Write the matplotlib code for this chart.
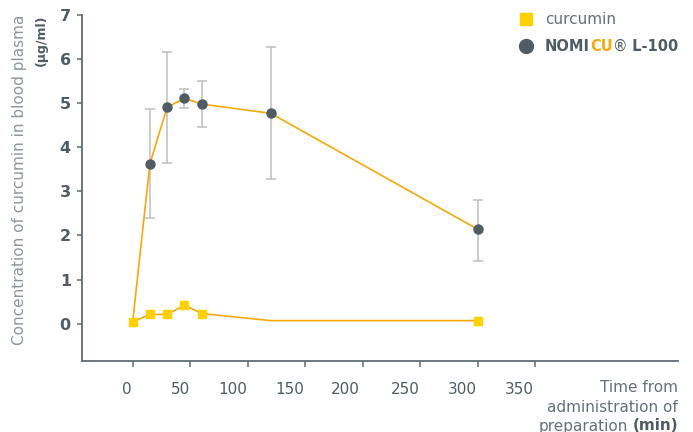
import numpy as np
import matplotlib.pyplot as plt
import matplotlib.transforms as mtransforms
from matplotlib.lines import Line2D
from matplotlib.text import Annotation

# data
time_curcumin = [0, 15, 30, 45, 60, 120, 300]
conc_curcumin = [0.04, 0.21, 0.21, 0.42, 0.23, 0.07, 0.07]
marked_curcumin = [0, 1, 2, 3, 4, 6]  # no marker drawn at 120 min

time_nomicu = [0, 15, 30, 45, 60, 120, 300]
conc_nomicu = [0.04, 3.63, 4.91, 5.11, 4.98, 4.77, 2.14]
err_low = [np.nan, 2.40, 3.64, 4.89, 4.45, 3.27, 1.43]
err_high = [np.nan, 4.86, 6.16, 5.33, 5.50, 6.27, 2.81]

xticks = [0, 50, 100, 150, 200, 250, 300, 350]
yticks = [0, 1, 2, 3, 4, 5, 6, 7]

# colours
ORANGE = '#f5a90a'
YELLOW = '#ffd100'
DARK = '#4f5c64'
MID = '#64707a'
LIGHT = '#8b979e'
ERR = '#bfbfbf'

plt.rcParams['font.family'] = 'DejaVu Sans'

fig = plt.figure(figsize=(6.93, 4.32), dpi=100)
ax = fig.add_axes([81.7 / 693, 71 / 432, (678 - 81.7) / 693, (361 - 15) / 432])

# NOMICU error bars
t_n = np.array(time_nomicu)
c_n = np.array(conc_nomicu)
yerr = np.array([c_n - np.array(err_low), np.array(err_high) - c_n])
ax.errorbar(t_n[1:], c_n[1:], yerr=yerr[:, 1:], fmt='none', ecolor=ERR,
            elinewidth=1.1, capsize=3.3, capthick=1.1, zorder=1)

# lines and markers
ax.plot(time_nomicu, conc_nomicu, color=ORANGE, lw=1.2, zorder=2)
ax.plot(time_curcumin, conc_curcumin, color=ORANGE, lw=1.2, zorder=2)
ax.plot(time_curcumin, conc_curcumin, ls='none', marker='s', ms=6.3,
        color=YELLOW, markevery=marked_curcumin, zorder=4)
ax.plot(time_nomicu, conc_nomicu, ls='none', marker='o', ms=6.5,
        color=DARK, markevery=list(range(1, len(time_nomicu))), zorder=4)

ax.set_xlim(-44.3, 474)
ax.set_ylim(-0.846, 7)
ax.set_xticks(xticks)
ax.set_yticks(yticks)

for s in ['top', 'right']:
    ax.spines[s].set_visible(False)
for s in ['left', 'bottom']:
    ax.spines[s].set_color('#5f6c74')
    ax.spines[s].set_linewidth(1.3)

ax.tick_params(axis='x', length=4, width=1.1, color='#5f6c74', pad=11,
               labelsize=11, labelcolor=DARK)
ax.tick_params(axis='y', length=3.3, width=1.1, color='#5f6c74', pad=4.5,
               labelsize=11.5, labelcolor=DARK)
for lab in ax.get_yticklabels():
    lab.set_fontweight('bold')

# the x tick labels sit a little left of their ticks
shifts = [-6, -10, -15, -15, -17, -15, -16, -16]
for lab, dx in zip(ax.get_xticklabels(), shifts):
    lab.set_transform(lab.get_transform() +
                      mtransforms.ScaledTranslation(dx / 100, 0, fig.dpi_scale_trans))

# y axis label (two lines, top aligned)
fig.text(20 / 693, 1 - 15 / 432, 'Concentration of curcumin in blood plasma',
         rotation=90, ha='center', va='top', fontsize=11, color=LIGHT)
fig.text(41 / 693, 1 - 15 / 432, '(µg/ml)', rotation=90, ha='center', va='top',
         fontsize=9, fontweight='bold', color=DARK)

# x axis label at the right
xr = 678 / 693
fig.text(xr, 1 - 388 / 432, 'Time from', ha='right', va='center', fontsize=11, color=MID)
fig.text(xr, 1 - 407 / 432, 'administration of', ha='right', va='center', fontsize=11, color=MID)
t_min = fig.text(xr, 1 - 426 / 432, '(min)', ha='right', va='center', fontsize=11,
                 fontweight='bold', color=DARK)
fig.add_artist(Annotation('preparation', xy=(0, 0), xycoords=t_min,
                          xytext=(-3, 0), textcoords='offset points', ha='right', va='bottom',
                          fontsize=11, color=MID))

# legend
handles = [Line2D([], [], ls='none', marker='s', ms=9, color=YELLOW),
           Line2D([], [], ls='none', marker='o', ms=10, color=DARK)]
leg = ax.legend(handles, ['curcumin', 'NOMI'], loc='upper left',
                bbox_to_anchor=(518.4 / 693, 1 - 12 / 432), bbox_transform=fig.transFigure,
                frameon=False, fontsize=11, borderpad=0, borderaxespad=0,
                handlelength=1.0, handletextpad=0.74, labelspacing=0.8)
leg.get_texts()[0].set_color(MID)
t_nomi = leg.get_texts()[1]
t_nomi.set_fontweight('bold')
t_nomi.set_fontsize(10.5)
t_nomi.set_color(DARK)
a1 = ax.annotate('CU', xy=(1, 0), xycoords=t_nomi, ha='left', va='bottom',
                 fontsize=10.5, fontweight='bold', color=ORANGE, zorder=10)
a2 = ax.annotate('®', xy=(1, 0), xycoords=a1, ha='left', va='bottom',
                 fontsize=10.5, color=DARK, zorder=11)
ax.annotate(' L-100', xy=(1, 0), xycoords=a2, ha='left', va='bottom',
            fontsize=10.5, fontweight='bold', color=DARK, zorder=12)

fig.savefig('out.png', dpi=100)
